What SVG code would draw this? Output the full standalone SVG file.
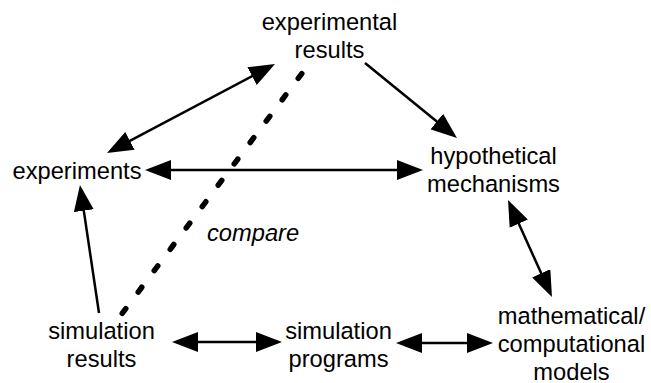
<svg xmlns="http://www.w3.org/2000/svg" width="651" height="383" viewBox="0 0 651 383">
  <style>
    text { font-family: "Liberation Sans", Arial, Helvetica, sans-serif; font-size: 23.7px; fill: #000; }
    .c { text-anchor: middle; }
    .it { font-style: italic; }
    .edge { stroke: #000; stroke-width: 2.5; fill: none; }
    .dots { stroke: #000; stroke-width: 5.5; stroke-linecap: round; fill: none; stroke-dasharray: 6 20.69; }
  </style>
  <defs>
    <marker id="ah" viewBox="0 0 26 20" refX="21" refY="10" markerWidth="26" markerHeight="20" markerUnits="userSpaceOnUse" orient="auto-start-reverse">
      <path d="M0,0 L26,10 L0,20 z" fill="#000"/>
    </marker>
  </defs>
  <rect width="651" height="383" fill="#fff"/>

  <g id="connectors">
    <line class="edge" x1="111.4" y1="150.7" x2="270.6" y2="66.3" marker-start="url(#ah)" marker-end="url(#ah)"/>
    <line class="edge" x1="365" y1="63" x2="453.1" y2="134.8" marker-end="url(#ah)"/>
    <line class="edge" x1="150" y1="170" x2="418" y2="170" marker-start="url(#ah)" marker-end="url(#ah)"/>
    <line class="edge" x1="510.1" y1="204.6" x2="549.9" y2="292.4" marker-start="url(#ah)" marker-end="url(#ah)"/>
    <line class="edge" x1="99" y1="313" x2="80.7" y2="189.9" marker-end="url(#ah)"/>
    <line class="edge" x1="177" y1="342" x2="277" y2="342" marker-start="url(#ah)" marker-end="url(#ah)"/>
    <line class="edge" x1="401" y1="343" x2="488" y2="343" marker-start="url(#ah)" marker-end="url(#ah)"/>
    <line class="dots" x1="301.8" y1="73.6" x2="122.2" y2="313.4"/>
    <text id="compare" class="it" x="207" y="240.5">compare</text>
  </g>

  <g id="experimental-results">
    <text class="c" x="329.5" y="30">experimental</text>
    <text class="c" x="329.5" y="58">results</text>
  </g>
  <g id="experiments">
    <text class="c" x="77" y="178.5">experiments</text>
  </g>
  <g id="hypothetical-mechanisms">
    <text class="c" x="493.5" y="164">hypothetical</text>
    <text class="c" x="493.5" y="192">mechanisms</text>
  </g>
  <g id="simulation-results">
    <text class="c" x="101.5" y="338.5">simulation</text>
    <text class="c" x="101.5" y="366.5">results</text>
  </g>
  <g id="simulation-programs">
    <text class="c" x="338.5" y="338.5">simulation</text>
    <text class="c" x="338.5" y="366.5">programs</text>
  </g>
  <g id="models">
    <text class="c" x="571.5" y="323.5">mathematical/</text>
    <text class="c" x="571.5" y="351.5">computational</text>
    <text class="c" x="571.5" y="379.5">models</text>
  </g>
</svg>
